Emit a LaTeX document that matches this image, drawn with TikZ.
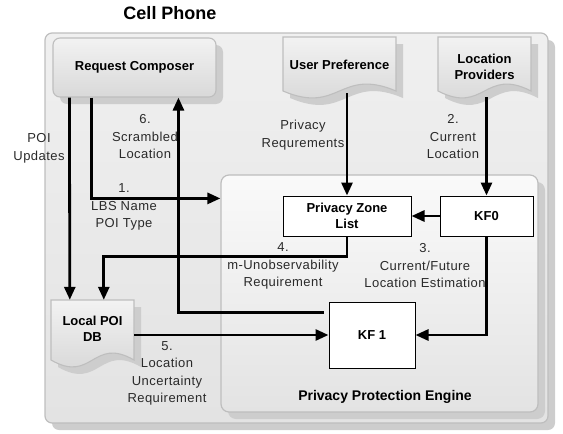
\documentclass[tikz,border=0pt]{standalone}
\usepackage{fontspec}
\setmainfont{Liberation Sans}
\newfontfamily\labelfont[LetterSpace=3.5]{Liberation Sans}
\usetikzlibrary{arrows.meta,calc,shadows}

\definecolor{edgegray}{HTML}{BEBEBE}
\definecolor{shadowgray}{HTML}{CDCDCD}
\definecolor{labelink}{HTML}{2A2A2A}

% wavy-bottomed document outline: left, top, right, wave base
\newcommand\docoutline[4]{(#1,#2) -- (#3,#2) -- (#3,#4)
  .. controls ({(#1+#3)/2},#4-24) and ({(#1+#3)/2},#4+24) .. (#1,#4) -- cycle}
\newcommand\docshape[4]{%
  \begin{scope}[shift={(7,7)}]
    \fill[shadowgray] \docoutline{#1}{#2}{#3}{#4};
  \end{scope}
  \shade[top color=white!95!black, bottom color=white!83!black, draw=edgegray, line width=1.1pt]
    \docoutline{#1}{#2}{#3}{#4};
}

\tikzset{
  flow/.style={line width=2.8pt, -{Triangle[length=13pt,width=11pt]}},
  lbl/.style={font=\labelfont\fontsize{13}{17.5}\selectfont, align=center, inner sep=0pt, text=labelink},
  boxtxt/.style={font=\fontsize{13}{15.5}\selectfont\bfseries, align=center, inner sep=0pt},
  whitebox/.style={boxtxt, draw=black, line width=1pt, fill=white},
  softshadow/.style={drop shadow={shadow xshift=7pt, shadow yshift=-7pt, fill=shadowgray, opacity=1}},
  phonebox/.style={softshadow, rounded corners=7pt, draw=edgegray, line width=1.2pt,
    top color=white!94!black, bottom color=white!89!black, inner sep=0pt},
  enginebox/.style={softshadow, rounded corners=8pt, draw=edgegray, line width=1.2pt,
    top color=white!98!black, bottom color=white!89!black, inner sep=0pt},
  composer/.style={boxtxt, softshadow, rounded corners=7pt, draw=edgegray, line width=1.1pt,
    top color=white!95!black, bottom color=white!85!black},
  docarea/.style={boxtxt},
}

\begin{document}
\begin{tikzpicture}[x=1pt, y=-1pt]
  \useasboundingbox (0,0) rectangle (563,434);

  \node[font=\fontsize{18}{21}\selectfont\bfseries] (title) at (170,13) {Cell Phone};

  % containers
  \node[phonebox, minimum width=503pt, minimum height=390pt] (phone) at (296.5,228) {};
  \node[enginebox, minimum width=317pt, minimum height=237pt] (ppe) at (379.5,293.5) {};

  % sources and stores
  \node[composer, minimum width=163pt, minimum height=59pt] (rc) at (134.5,67.5) {Request Composer};
  \docshape{283}{37}{396}{91}
  \node[docarea, minimum width=113pt, minimum height=56pt] (up) at (339.5,65) {User Preference};
  \docshape{438}{37}{531}{91}
  \node[docarea, minimum width=93pt, minimum height=60pt] (lp) at (484.5,67) {Location\\Providers};
  \docshape{51}{300}{134}{360}
  \node[docarea, minimum width=83pt, minimum height=58pt] (poi) at (92.5,329) {Local POI\\DB};

  % engine internals
  \node[whitebox, minimum width=128pt, minimum height=40pt] (pz) at (347,216) {Privacy Zone\\List};
  \node[whitebox, minimum width=93pt, minimum height=40pt] (kf0) at (486.5,216) {KF0};
  \node[whitebox, minimum width=86pt, minimum height=66pt] (kf1) at (372,335) {KF 1};
  \node[boxtxt, font=\fontsize{14}{16}\selectfont\bfseries] (lppe) at (385,397) {Privacy Protection Engine};

  % flow labels
  \node[lbl] (lupd) at (39,148.5) {POI\\Updates};
  \node[lbl] (l6) at (145,137) {6.\\Scrambled\\Location};
  \node[lbl] (l1) at (124,207) {1.\\LBS Name\\POI Type};
  \node[lbl] (lpriv) at (303,135) {Privacy\\Requrements};
  \node[lbl] (l2) at (453,137) {2.\\Current\\Location};
  \node[lbl] (l4) at (283,266) {4.\\m-Unobservability\\Requirement};
  \node[lbl] (l3) at (425,266) {3.\\Current/Future\\Location Estimation};
  \node[lbl] (l5) at (167,373.5) {5.\\Location\\Uncertainty\\Requirement};

  % flows
  \draw[flow] ($(rc.south west)+(39,0)$) |- ($(ppe.north west)+(0,24)$);
  \draw[flow] ($(rc.south west)+(17,0)$) -- ($(poi.north west)+(19,0)$);
  \draw[flow] ($(kf1.north west)+(-5,11)$) -| ($(rc.south west)+(126,0)$);
  \draw[flow] (pz.south) -- ++(0,20) -| ($(poi.north west)+(53,0)$);
  \draw[flow] (pz.north |- up.south) -- (pz.north);
  \draw[flow] (kf0.north |- lp.south) -- (kf0.north);
  \draw[flow] (kf0) -- (pz);
  \draw[flow] (kf0.south) |- (kf1.east);
  \draw[flow] (poi.east |- kf1.west) -- (kf1.west);
\end{tikzpicture}
\end{document}
